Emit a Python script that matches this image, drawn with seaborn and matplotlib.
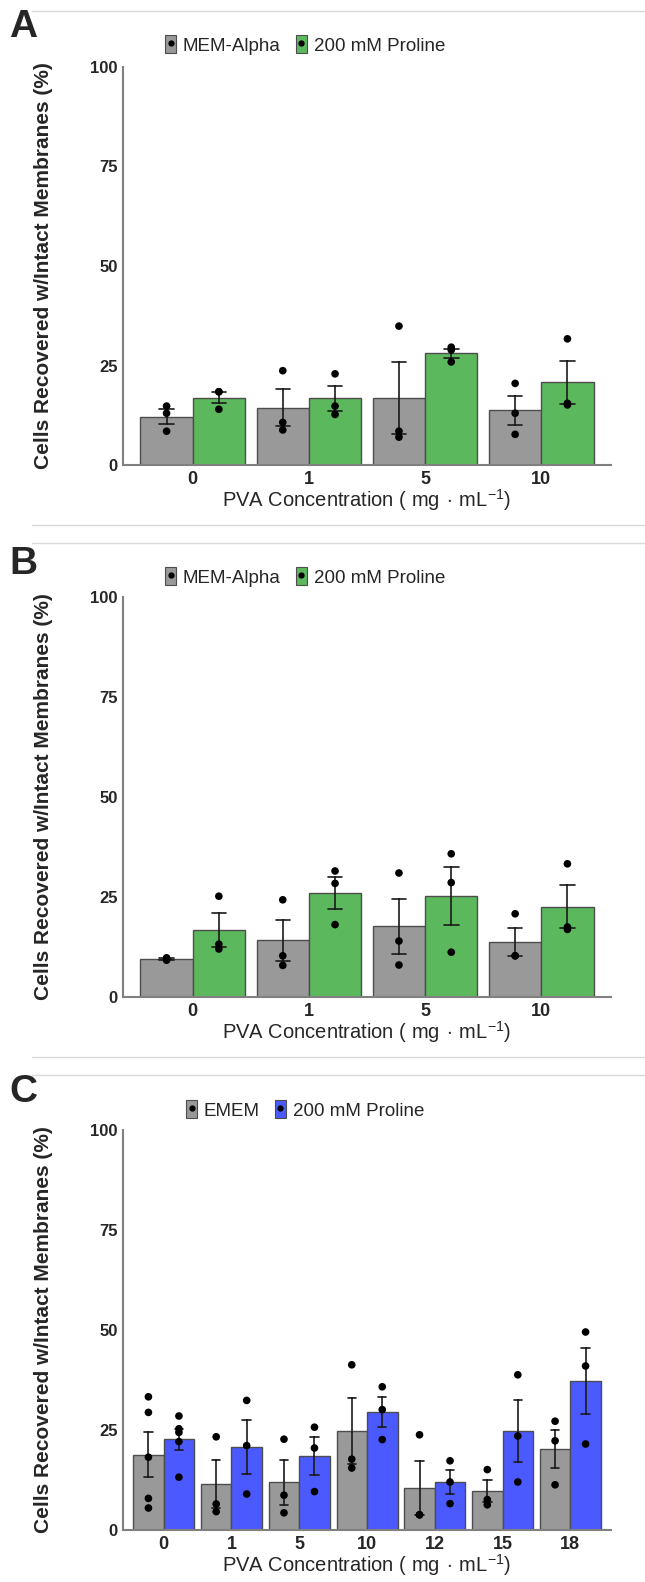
import numpy as np
import pandas as pd
import seaborn as sns
import matplotlib.pyplot as plt
from matplotlib.patches import Patch
from matplotlib.lines import Line2D

# PVA concentrations (mg/mL) on the x axes
conc_ab = ['0', '1', '5', '10']
conc_c = ['0', '1', '5', '10', '12', '15', '18']

# Panel A replicates, % cells recovered w/ intact membranes
a_mem = [[14.8, 13.0, 8.5], [23.7, 10.7, 8.8], [34.9, 8.5, 7.0], [20.5, 13.0, 7.7]]
a_pro = [[18.4, 18.4, 14.0], [22.9, 14.8, 12.7], [29.6, 28.9, 25.9], [31.7, 15.5, 15.1]]

# Panel B replicates
b_mem = [[9.8, 9.5, 9.2], [24.3, 10.3, 7.9], [31.0, 14.0, 8.0], [20.8, 10.3, 10.3]]
b_pro = [[25.2, 13.2, 12.0], [31.5, 28.4, 18.1], [35.8, 28.6, 11.2], [33.3, 17.5, 16.9]]

# Panel C replicates
c_emem = [[33.3, 29.4, 18.2, 7.9, 5.5], [23.3, 6.5, 4.6], [22.7, 8.7, 4.3],
          [41.3, 17.7, 15.5], [23.8, 3.8, 3.8], [15.1, 7.6, 6.3], [27.2, 22.3, 11.3]]
c_pro = [[28.5, 25.3, 24.4, 22.1, 13.2], [32.4, 21.1, 9.0], [25.7, 20.5, 9.6],
         [35.8, 30.1, 22.6], [17.3, 12.0, 6.6], [38.8, 23.5, 12.0], [49.5, 41.0, 21.5]]

labels_ab = ['MEM-Alpha', '200 mM Proline']
labels_c = ['EMEM', '200 mM Proline']

gray = '#999999'
green = '#5cb85c'
blue = '#4a5aff'

sns.set_style('white')
plt.rcParams['font.family'] = ['Liberation Sans', 'DejaVu Sans']
plt.rcParams['mathtext.fontset'] = 'custom'
plt.rcParams['mathtext.rm'] = 'Liberation Sans'

W, H = 645, 1582
fig = plt.figure(figsize=(W / 100, H / 100), dpi=100)


def to_long(cats, ctrl, pro, labels):
    rows = []
    for c, a, b in zip(cats, ctrl, pro):
        rows += [(c, labels[0], v) for v in a]
        rows += [(c, labels[1], v) for v in b]
    return pd.DataFrame(rows, columns=['conc', 'medium', 'value'])


def panel(top, bottom, letter, letter_y, legend_y, cats, ctrl, pro, labels, colors):
    ax = fig.add_axes([123 / W, 1 - bottom / H, 488 / W, (bottom - top) / H])
    df = to_long(cats, ctrl, pro, labels)

    sns.barplot(data=df, x='conc', y='value', hue='medium', order=cats, hue_order=labels,
                palette=colors, saturation=1, width=0.9, errorbar='se', capsize=0.25,
                err_kws={'color': '#1a1a1a', 'linewidth': 1.2},
                edgecolor='#4d4d4d', linewidth=1, legend=False, ax=ax)
    n_before = len(ax.collections)
    sns.stripplot(data=df, x='conc', y='value', hue='medium', order=cats, hue_order=labels,
                  palette=['black', 'black'], dodge=True, jitter=False, size=5.5,
                  legend=False, ax=ax)
    # stripplot dodges with width 0.8, bars use 0.9: stretch the offsets to match
    for coll in ax.collections[n_before:]:
        off = coll.get_offsets()
        if len(off):
            c = np.round(off[:, 0])
            off[:, 0] = c + (off[:, 0] - c) * 0.9 / 0.8
            coll.set_offsets(off)

    ax.set_xlim(-0.6, len(cats) - 0.4)
    ax.set_ylim(0, 100)
    ax.set_yticks([0, 25, 50, 75, 100])
    ax.set_ylabel('')
    ax.set_xlabel(r'PVA Concentration ( mg$\,\cdot\,$mL$^{-1}$)', fontsize=14.5, labelpad=0)
    for s in ['top', 'right']:
        ax.spines[s].set_visible(False)
    for s in ['left', 'bottom']:
        ax.spines[s].set_color('#808080')
        ax.spines[s].set_linewidth(1.5)
    ax.tick_params(axis='both', length=2.5, color='#808080', pad=1.5)
    ax.tick_params(axis='x', labelsize=13)
    ax.tick_params(axis='y', labelsize=12)
    for t in ax.get_xticklabels() + ax.get_yticklabels():
        t.set_fontweight('bold')

    fig.text(44 / W, 1 - (top + bottom) / 2 / H, 'Cells Recovered w/Intact Membranes (%)',
             rotation=90, ha='center', va='center', fontsize=15, fontweight='bold')
    fig.text(9 / W, 1 - letter_y / H, letter, fontsize=28, fontweight='bold', va='top')

    handles = [(Patch(facecolor=col, edgecolor='#4d4d4d', linewidth=0.8),
                Line2D([], [], marker='o', ls='', color='black', markersize=3.5))
               for col in colors]
    fig.legend(handles, labels, loc='center', bbox_to_anchor=(305 / W, 1 - legend_y / H),
               ncol=2, frameon=False, fontsize=13.5, handlelength=0.6, handleheight=1.1,
               handletextpad=0.35, columnspacing=0.8)
    return ax


panel(67, 465, 'A', 9, 45, conc_ab, a_mem, a_pro, labels_ab, [gray, green])
panel(597, 997, 'B', 546, 577, conc_ab, b_mem, b_pro, labels_ab, [gray, green])
panel(1130, 1530, 'C', 1074, 1110, conc_c, c_emem, c_pro, labels_c, [gray, blue])

# thin panel frames
for y in [11, 525, 543, 1057, 1075]:
    fig.add_artist(Line2D([32 / W, 1], [1 - y / H, 1 - y / H], transform=fig.transFigure,
                          color='#d9d9d9', linewidth=1))

fig.savefig('out.png', dpi=100)
